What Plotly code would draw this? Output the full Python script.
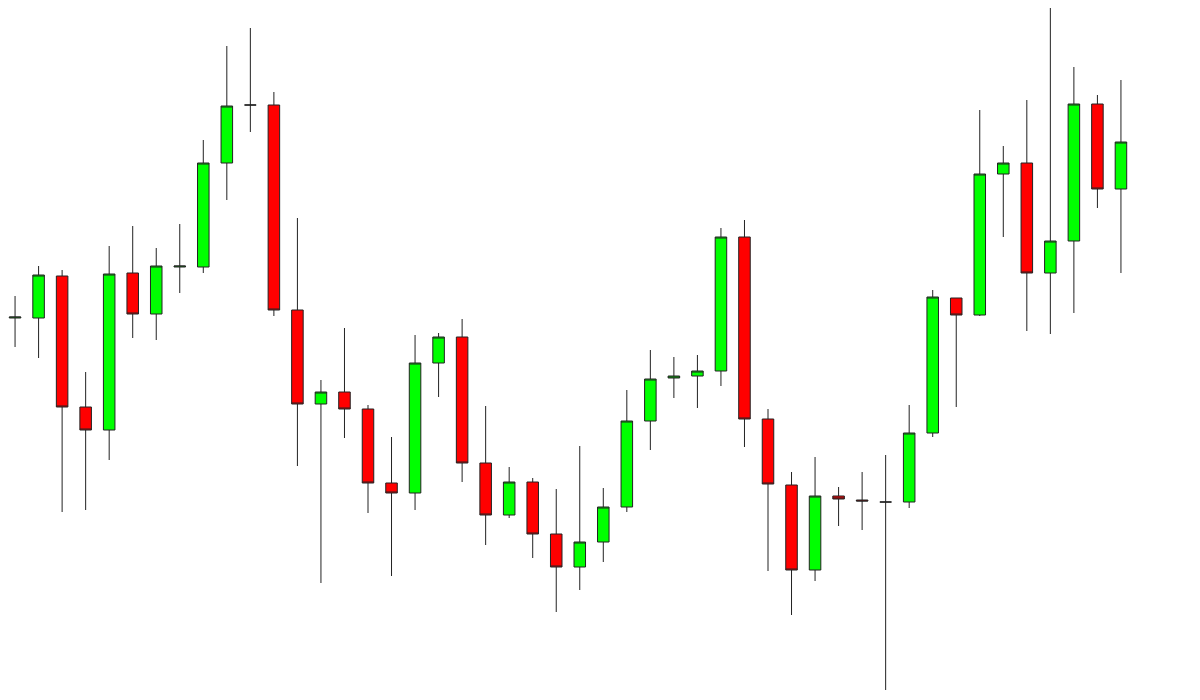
import plotly.graph_objects as go

# values are in "chart units" (0 = bottom edge, 700 = top edge)
idx = list(range(0, 49))
opens = [285, 382, 382, 424, 293, 270, 427, 386, 433, 433, 537, 595, 595, 390, 296, 308, 291, 217, 207, 337,
         363, 237, 185, 218, 166, 133, 158, 193, 279, 322, 324, 329, 463, 281, 215, 130, 204, 200, 198, 198,
         267, 402, 385, 526, 537, 427, 459, 596, 511]
closes = [380, 383, 425, 293, 270, 426, 386, 434, 434, 537, 594, 595, 390, 296, 308, 291, 217, 207, 337, 363,
          237, 185, 218, 166, 133, 158, 193, 279, 321, 324, 329, 463, 281, 216, 130, 204, 201, 199, 198, 267,
          403, 385, 526, 537, 427, 459, 596, 511, 558]
highs = [390, 404, 434, 430, 328, 454, 474, 452, 476, 560, 654, 672, 608, 482, 320, 372, 295, 263, 365, 367,
         381, 294, 233, 222, 211, 254, 212, 310, 350, 343, 345, 472, 480, 291, 228, 243, 213, 228, 245, 295,
         410, 402, 590, 554, 600, 700, 633, 605, 620]
lows = [280, 353, 342, 188, 190, 240, 362, 360, 407, 427, 500, 568, 384, 234, 117, 262, 187, 124, 190, 303,
        218, 155, 182, 142, 88, 110, 138, 188, 250, 302, 292, 314, 253, 129, 85, 119, 174, 170, 10, 192,
        263, 293, 384, 463, 369, 366, 387, 492, 427]

fig = go.Figure(
    go.Candlestick(
        x=idx,
        open=opens,
        high=highs,
        low=lows,
        close=closes,
        increasing=dict(fillcolor="#00ff00", line=dict(color="#222222", width=1)),
        decreasing=dict(fillcolor="#ff0000", line=dict(color="#222222", width=1)),
        whiskerwidth=0,
    )
)

fig.update_layout(
    width=1200,
    height=700,
    margin=dict(l=0, r=0, t=0, b=0),
    paper_bgcolor="white",
    plot_bgcolor="white",
    showlegend=False,
    xaxis=dict(visible=False, range=[0.70, 51.70], rangeslider=dict(visible=False)),
    yaxis=dict(visible=False, range=[-8, 692]),
)

fig.write_html("out.html")
